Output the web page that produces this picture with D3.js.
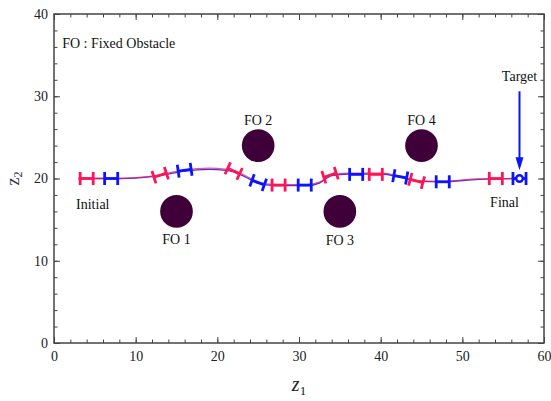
<!DOCTYPE html>
<html>
<head>
<meta charset="utf-8">
<script src="https://cdn.jsdelivr.net/npm/d3@7"></script>
<style>
  body { margin: 0; background: #fff; }
  text { font-family: "Liberation Serif", "DejaVu Serif", serif; }
</style>
</head>
<body>
<div id="chart"></div>
<script>
// trajectory
const pathZ1 = [3, 8, 10, 13, 16, 19, 21, 22, 24, 25, 27, 31, 32.5, 34, 36, 40, 42.5, 44.5, 47.5, 52, 57];
const redZ2  = [20, 20, 20.1, 20.45, 21.05, 21.25, 21.15, 20.95, 20.05, 19.55, 19.25, 19.25, 19.55, 20.45, 20.65, 20.65, 20.25, 19.75, 19.65, 19.95, 20];
const blueZ2 = [20, 20, 20.05, 20.35, 20.9, 21.1, 21.0, 20.8, 19.9, 19.4, 19.15, 19.15, 19.45, 20.35, 20.55, 20.55, 20.15, 19.65, 19.6, 19.9, 20];

// vehicle snapshots (alternating red / blue)
const markerZ1 = [4, 7, 13, 16, 22, 25, 27.5, 30.7, 33.8, 37, 39.4, 42.4, 44.4, 47.6, 54.1, 57];
const markerZ2 = [20, 20, 20.4, 21.0, 20.9, 19.5, 19.2, 19.2, 20.4, 20.5, 20.5, 20.2, 19.7, 19.6, 20, 20];
const markerHeading = [0, 0, 18, 8, -25, -20, 0, 0, 18, 0, 0, -10, -15, 0, 0, 0];

// fixed obstacles
const obsZ1 = [15, 25, 35, 45];
const obsZ2 = [16, 24, 16, 24];
const obsR = 2;
const obsNames = ["FO 1", "FO 2", "FO 3", "FO 4"];
const obsLabelZ2 = [12.0, 26.5, 11.9, 26.5];

const xTicks = [0, 10, 20, 30, 40, 50, 60];
const yTicks = [0, 10, 20, 30, 40];

const target = { z1: 57, z2: 20, arrowFrom: 30.6, arrowTo: 21.0 };

const width = 551, height = 401;
const margin = { left: 54, right: 7, top: 14, bottom: 58 };

const redC = "#ff1454", blueC = "#0c14ff", obsC = "#3f0039";

let svg = d3.select("#chart").append("svg")
  .attr("width", width)
  .attr("height", height);

let x = d3.scaleLinear().domain([0, 60]).range([margin.left, width - margin.right]);
let y = d3.scaleLinear().domain([0, 40]).range([height - margin.bottom, margin.top]);

const minor = d3.range(0, 61, 2);
const minorY = d3.range(0, 41, 2);

function styleAxis(g) {
  g.select(".domain").remove();
  g.selectAll("line").attr("stroke", "#444").attr("stroke-width", 1);
  g.selectAll("text").attr("fill", "#222").style("font-size", "14px")
    .style("font-family", "'Liberation Serif', serif");
}

// minor ticks on all sides
svg.append("g").attr("transform", `translate(0,${y(0)})`)
  .call(d3.axisBottom(x).tickValues(minor).tickSize(-3.5).tickFormat("")).call(styleAxis);
svg.append("g").attr("transform", `translate(0,${y(40)})`)
  .call(d3.axisTop(x).tickValues(minor).tickSize(-3.5).tickFormat("")).call(styleAxis);
svg.append("g").attr("transform", `translate(${x(0)},0)`)
  .call(d3.axisLeft(y).tickValues(minorY).tickSize(-3.5).tickFormat("")).call(styleAxis);
svg.append("g").attr("transform", `translate(${x(60)},0)`)
  .call(d3.axisRight(y).tickValues(minorY).tickSize(-3.5).tickFormat("")).call(styleAxis);

// major ticks + labels
svg.append("g").attr("transform", `translate(0,${y(0)})`)
  .call(d3.axisBottom(x).tickValues(xTicks).tickSize(-6).tickPadding(8)).call(styleAxis);
svg.append("g").attr("transform", `translate(0,${y(40)})`)
  .call(d3.axisTop(x).tickValues(xTicks).tickSize(-6).tickFormat("")).call(styleAxis);
svg.append("g").attr("transform", `translate(${x(0)},0)`)
  .call(d3.axisLeft(y).tickValues(yTicks).tickSize(-6).tickPadding(6)).call(styleAxis);
svg.append("g").attr("transform", `translate(${x(60)},0)`)
  .call(d3.axisRight(y).tickValues(yTicks).tickSize(-6).tickFormat("")).call(styleAxis);

// frame
svg.append("rect")
  .attr("x", x(0)).attr("y", y(40))
  .attr("width", x(60) - x(0)).attr("height", y(0) - y(40))
  .attr("fill", "none").attr("stroke", "#444").attr("stroke-width", 1.5);

// axis labels
let xl = svg.append("text")
  .attr("x", (x(0) + x(60)) / 2).attr("y", 391)
  .attr("text-anchor", "middle").attr("fill", "#222");
xl.append("tspan").text("z").style("font-size", "20px").style("font-style", "italic");
xl.append("tspan").text("1").attr("dy", 4).style("font-size", "13px");

let yl = svg.append("text")
  .attr("transform", `translate(19,${(y(0) + y(40)) / 2}) rotate(-90)`)
  .attr("text-anchor", "middle").attr("fill", "#3a3050");
yl.append("tspan").text("z").style("font-size", "18px");
yl.append("tspan").text("2").attr("dy", 3).style("font-size", "12px");

// obstacles
svg.selectAll("circle.obs").data(obsZ1).enter().append("circle")
  .attr("class", "obs")
  .attr("cx", d => x(d))
  .attr("cy", (d, i) => y(obsZ2[i]))
  .attr("r", x(obsR) - x(0))
  .attr("fill", obsC);

svg.selectAll("text.obs").data(obsNames).enter().append("text")
  .attr("class", "obs")
  .attr("x", (d, i) => x(obsZ1[i]))
  .attr("y", (d, i) => y(obsLabelZ2[i]))
  .attr("text-anchor", "middle")
  .style("font-size", "14px")
  .attr("fill", "#111")
  .text(d => d);

// trajectories
let line = d3.line().curve(d3.curveMonotoneX);
svg.append("path")
  .attr("d", line(pathZ1.map((d, i) => [x(d), y(blueZ2[i])])))
  .attr("fill", "none").attr("stroke", blueC).attr("stroke-width", 1.3).attr("opacity", 0.85);
svg.append("path")
  .attr("d", line(pathZ1.map((d, i) => [x(d), y(redZ2[i])])))
  .attr("fill", "none").attr("stroke", redC).attr("stroke-width", 1.3).attr("opacity", 0.75);

// vehicle markers
const half = x(0.8) - x(0);
let mk = svg.selectAll("g.mk").data(markerZ1).enter().append("g")
  .attr("class", "mk")
  .attr("transform", (d, i) => `translate(${x(d)},${y(markerZ2[i])}) rotate(${-markerHeading[i]})`)
  .attr("stroke", (d, i) => i % 2 === 0 ? redC : blueC)
  .attr("stroke-width", 2.8)
  .attr("fill", "none");
mk.append("line").attr("x1", -half).attr("x2", half).attr("y1", 0).attr("y2", 0);
mk.append("line").attr("x1", -half).attr("x2", -half).attr("y1", -6.5).attr("y2", 6.5);
mk.append("line").attr("x1", half).attr("x2", half).attr("y1", -6.5).attr("y2", 6.5);

// target ring + arrow
svg.append("circle")
  .attr("cx", x(target.z1)).attr("cy", y(target.z2)).attr("r", 3.3)
  .attr("fill", "#fff").attr("stroke", blueC).attr("stroke-width", 2.4);

svg.append("line")
  .attr("x1", x(target.z1)).attr("x2", x(target.z1))
  .attr("y1", y(target.arrowFrom)).attr("y2", y(target.arrowTo) - 10)
  .attr("stroke", blueC).attr("stroke-width", 2);
svg.append("path")
  .attr("d", `M${x(target.z1)},${y(target.arrowTo)} l-4,-13 l8,0 z`)
  .attr("fill", blueC);

// annotations
svg.append("text").attr("x", x(57)).attr("y", y(31.8)).attr("text-anchor", "middle")
  .style("font-size", "14px").attr("fill", "#111").text("Target");
svg.append("text").attr("x", x(2.7)).attr("y", y(16.3))
  .style("font-size", "14px").attr("fill", "#111").text("Initial");
svg.append("text").attr("x", x(53.4)).attr("y", y(16.5))
  .style("font-size", "14px").attr("fill", "#111").text("Final");
svg.append("text").attr("x", x(1.0)).attr("y", y(35.9))
  .style("font-size", "14px").attr("fill", "#111").text("FO : Fixed Obstacle");
</script>
</body>
</html>
